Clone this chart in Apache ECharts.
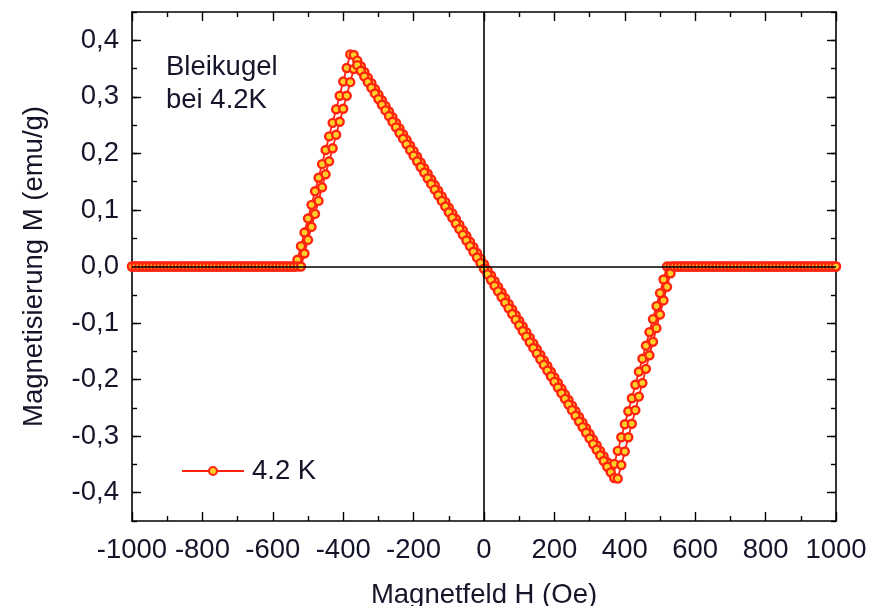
<!DOCTYPE html>
<html>
<head>
<meta charset="utf-8">
<script src="https://cdn.jsdelivr.net/npm/echarts@6/dist/echarts.min.js"></script>
<style>
html,body{margin:0;padding:0;background:#fff;}
#chart{width:875px;height:606px;}
</style>
</head>
<body>
<div id="chart"></div>
<script>
// Magnetic field H (Oe)
const fieldH = [
-1000,-990,-980,-970,-960,-950,-940,-930,-920,-910,
-900,-890,-880,-870,-860,-850,-840,-830,-820,-810,
-800,-790,-780,-770,-760,-750,-740,-730,-720,-710,
-700,-690,-680,-670,-660,-650,-640,-630,-620,-610,
-600,-590,-580,-570,-560,-550,-540,-530,-520,-510,
-500,-490,-480,-470,-460,-450,-440,-430,-420,-410,
-400,-390,-380,-370,-360,-350,-340,-330,-320,-310,
-300,-290,-280,-270,-260,-250,-240,-230,-220,-210,
-200,-190,-180,-170,-160,-150,-140,-130,-120,-110,
-100,-90,-80,-70,-60,-50,-40,-30,-20,-10,
0,10,20,30,40,50,60,70,80,90,
100,110,120,130,140,150,160,170,180,190,
200,210,220,230,240,250,260,270,280,290,
300,310,320,330,340,350,360,370,380,390,
400,410,420,430,440,450,460,470,480,490,
500,510,520,530,540,550,560,570,580,590,
600,610,620,630,640,650,660,670,680,690,
700,710,720,730,740,750,760,770,780,790,
800,810,820,830,840,850,860,870,880,890,
900,910,920,930,940,950,960,970,980,990,
1000
];
// Magnetisation M (emu/g), sweep with increasing field
const magUp = [
0,0,0,0,0,0,0,0,0,0,
0,0,0,0,0,0,0,0,0,0,
0,0,0,0,0,0,0,0,0,0,
0,0,0,0,0,0,0,0,0,0,
0,0,0,0,0,0,0,0.012,0.036,0.060,
0.085,0.109,0.133,0.157,0.181,0.206,0.230,0.254,0.278,0.302,
0.327,0.351,0.375,0.374,0.364,0.354,0.344,0.334,0.324,0.314,
0.304,0.294,0.284,0.274,0.264,0.254,0.244,0.234,0.224,0.214,
0.204,0.194,0.184,0.174,0.164,0.154,0.144,0.134,0.124,0.114,
0.104,0.094,0.084,0.074,0.064,0.054,0.044,0.034,0.024,0.014,
0.004,-0.006,-0.016,-0.026,-0.036,-0.046,-0.056,-0.066,-0.076,-0.086,
-0.096,-0.106,-0.116,-0.126,-0.136,-0.146,-0.156,-0.166,-0.176,-0.186,
-0.196,-0.206,-0.216,-0.226,-0.236,-0.246,-0.256,-0.266,-0.276,-0.286,
-0.296,-0.306,-0.316,-0.326,-0.336,-0.346,-0.356,-0.349,-0.326,-0.302,
-0.279,-0.256,-0.233,-0.209,-0.186,-0.163,-0.140,-0.116,-0.093,-0.070,
-0.047,-0.023,0,0,0,0,0,0,0,0,
0,0,0,0,0,0,0,0,0,0,
0,0,0,0,0,0,0,0,0,0,
0,0,0,0,0,0,0,0,0,0,
0,0,0,0,0,0,0,0,0,0,
0
];
// Magnetisation M (emu/g), sweep with decreasing field
const magDown = [
0,0,0,0,0,0,0,0,0,0,
0,0,0,0,0,0,0,0,0,0,
0,0,0,0,0,0,0,0,0,0,
0,0,0,0,0,0,0,0,0,0,
0,0,0,0,0,0,0,0,0,0.023,
0.047,0.070,0.093,0.116,0.140,0.163,0.186,0.209,0.233,0.256,
0.279,0.302,0.326,0.349,0.356,0.346,0.336,0.326,0.316,0.306,
0.296,0.286,0.276,0.266,0.256,0.246,0.236,0.226,0.216,0.206,
0.196,0.186,0.176,0.166,0.156,0.146,0.136,0.126,0.116,0.106,
0.096,0.086,0.076,0.066,0.056,0.046,0.036,0.026,0.016,0.006,
-0.004,-0.014,-0.024,-0.034,-0.044,-0.054,-0.064,-0.074,-0.084,-0.094,
-0.104,-0.114,-0.124,-0.134,-0.144,-0.154,-0.164,-0.174,-0.184,-0.194,
-0.204,-0.214,-0.224,-0.234,-0.244,-0.254,-0.264,-0.274,-0.284,-0.294,
-0.304,-0.314,-0.324,-0.334,-0.344,-0.354,-0.364,-0.374,-0.375,-0.351,
-0.327,-0.302,-0.278,-0.254,-0.230,-0.206,-0.181,-0.157,-0.133,-0.109,
-0.085,-0.060,-0.036,-0.012,0,0,0,0,0,0,
0,0,0,0,0,0,0,0,0,0,
0,0,0,0,0,0,0,0,0,0,
0,0,0,0,0,0,0,0,0,0,
0,0,0,0,0,0,0,0,0,0,
0
];
const yTickValues = [-0.4,-0.3,-0.2,-0.1,0,0.1,0.2,0.3,0.4];
const seriesName = '4.2 K';
const noteLines = ['Bleikugel', 'bei 4.2K'];
const xTitle = 'Magnetfeld H (Oe)';
const yTitle = 'Magnetisierung M (emu/g)';

const FONT = "'Liberation Sans', Arial, sans-serif";
const TXT = '#15152a';
const FS = 27.5;

const chart = echarts.init(document.getElementById('chart'), null, {renderer: 'canvas'});

const upData = fieldH.map((h, i) => [h, magUp[i]]);
const downData = fieldH.map((h, i) => [h, magDown[i]]);

const axisLineStyle = {show: true, onZero: false, lineStyle: {color: '#000', width: 1.6}};

function xAx(pos, showLabel) {
  return {
    type: 'value', position: pos, min: -1000, max: 1000, interval: 200,
    axisLine: axisLineStyle,
    axisTick: {show: true, inside: true, length: 9, lineStyle: {color: '#000', width: 1.4}},
    minorTick: {show: true, splitNumber: 2, length: 5, lineStyle: {color: '#000', width: 1.4}},
    axisLabel: {show: showLabel, fontSize: FS, fontFamily: FONT, color: TXT, margin: 15,
      formatter: v => String(Math.round(v))},
    splitLine: {show: false}, minorSplitLine: {show: false},
    name: showLabel ? xTitle : '', nameLocation: 'middle', nameGap: 60,
    nameTextStyle: {fontSize: FS, fontFamily: FONT, color: TXT}
  };
}
function yMajor(pos, showLabel) {
  return {
    type: 'value', position: pos, min: -0.45, max: 0.45,
    axisLine: axisLineStyle,
    axisTick: {show: true, inside: true, length: 9, customValues: yTickValues, lineStyle: {color: '#000', width: 1.4}},
    axisLabel: {show: showLabel, customValues: yTickValues, fontSize: FS, fontFamily: FONT, color: TXT, margin: 13,
      formatter: v => (Math.round(v * 10) / 10).toFixed(1).replace('.', ',')},
    splitLine: {show: false},
    name: showLabel ? yTitle : '', nameLocation: 'middle', nameGap: 84, nameRotate: 90,
    nameTextStyle: {fontSize: FS, fontFamily: FONT, color: TXT}
  };
}
function yMinor(pos) {
  return {
    type: 'value', position: pos, min: -0.45, max: 0.45, interval: 0.05,
    axisLine: {show: false, onZero: false},
    axisTick: {show: true, inside: true, length: 5, lineStyle: {color: '#000', width: 1.4}},
    axisLabel: {show: false}, splitLine: {show: false}
  };
}

const markerStyle = {color: '#ffd02a', borderColor: '#ff2410', borderWidth: 2.4};

chart.setOption({
  animation: false,
  backgroundColor: '#fff',
  grid: {left: 132, right: 39, top: 12, bottom: 85, containLabel: false, outerBoundsMode: 'none'},
  xAxis: [xAx('bottom', true), xAx('top', false)],
  yAxis: [yMajor('left', true), yMinor('left'), yMajor('right', false), yMinor('right')],
  legend: {
    left: 176, top: 452, itemWidth: 62, itemHeight: 10, itemGap: 10,
    data: [seriesName],
    textStyle: {fontSize: FS, fontFamily: FONT, color: TXT, padding: [0, 0, 0, 3]}
  },
  graphic: [{
    type: 'text', left: 166, top: 51, silent: true,
    style: {text: noteLines.join('\n'), fontSize: FS, fontFamily: FONT, fill: TXT, lineHeight: 33}
  }],
  series: [
    {
      type: 'line', name: 'zero', data: [], z: 1, silent: true,
      markLine: {silent: true, symbol: 'none', label: {show: false},
        lineStyle: {color: '#000', width: 1.6, type: 'solid'},
        data: [{yAxis: 0}, {xAxis: 0}]}
    },
    {
      type: 'line', name: seriesName, data: upData, z: 3,
      symbol: 'circle', symbolSize: 8, showSymbol: true, showAllSymbol: true,
      lineStyle: {color: '#ff2010', width: 1.8}, itemStyle: markerStyle
    },
    {
      type: 'line', name: seriesName, data: downData, z: 3,
      symbol: 'circle', symbolSize: 8, showSymbol: true, showAllSymbol: true,
      lineStyle: {color: '#ff2010', width: 1.8}, itemStyle: markerStyle
    }
  ]
});
</script>
</body>
</html>
